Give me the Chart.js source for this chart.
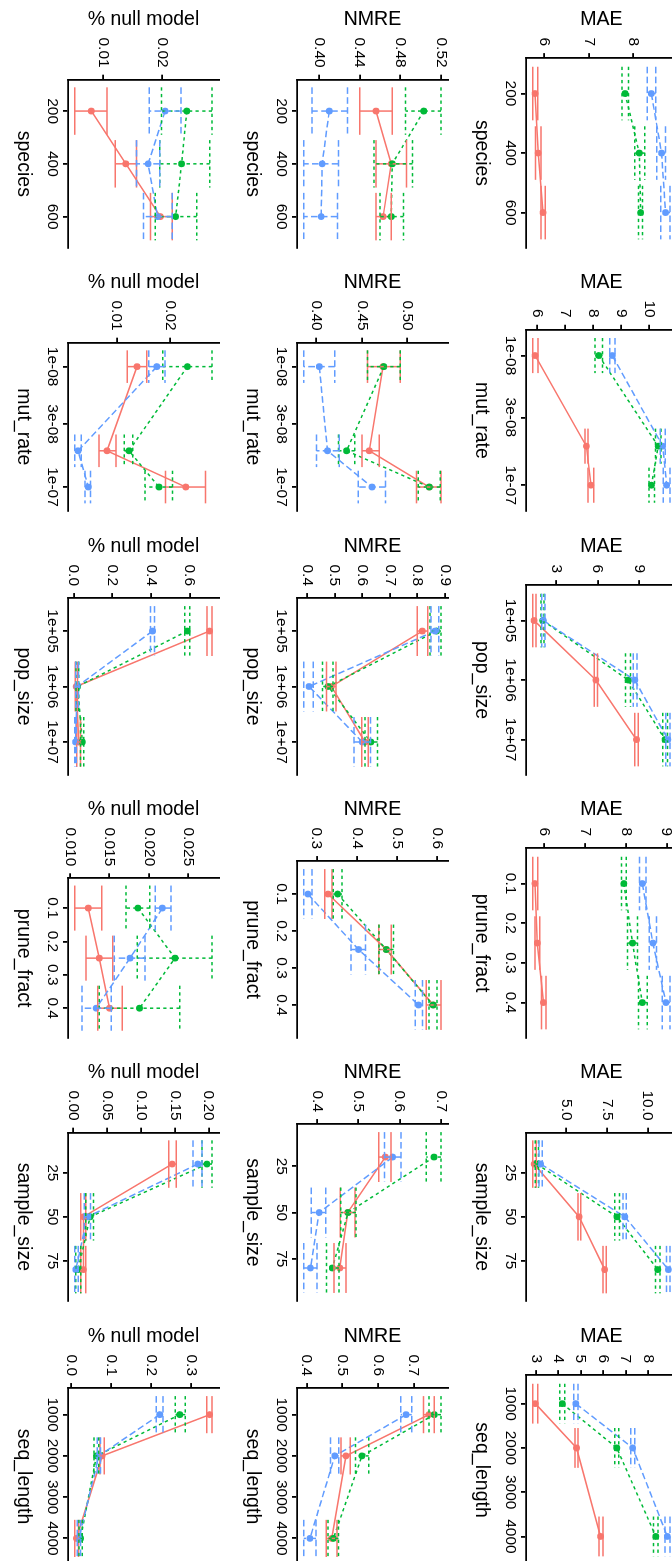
<!DOCTYPE html>
<html>
<head>
<meta charset="utf-8">
<script src="https://cdn.jsdelivr.net/npm/chart.js@4.4.1/dist/chart.umd.min.js"></script>
<style>
  html, body { margin: 0; padding: 0; background: #fff; }
  body { width: 672px; height: 1561px; overflow: hidden; position: relative; }
  /* the figure is laid out landscape and turned a quarter clockwise */
  #fig { position: absolute; left: 0; top: 0; width: 1580px; height: 687px;
         transform-origin: 0 0; transform: translate(687px, 0) rotate(90deg); }
  #fig div { position: absolute; width: 263px; height: 229px; }
</style>
</head>
<body>
<div id="fig"></div>
<script>
// three groups: red solid, green dotted, blue dashed
const colors = ['#F8766D', '#00BA38', '#619CFF'];
const dashes = [[], [3.3, 3.3], [6.6, 3.3]];
const groups = ['group 1', 'group 2', 'group 3'];
const metrics = ['MAE', 'NMRE', '% null model'];

// parameter values on the x axes
const species = [200, 400, 600];
const mutRate = [1e-8, 5e-8, 1e-7];
const popSize = [1e5, 1e6, 1e7];
const pruneFract = [0.1, 0.25, 0.4];
const sampleSize = [20, 50, 80];
const seqLength = [1000, 2000, 4000];

const speciesTicks = ['200', '400', '600'];
const mutRateTicks = ['1e-08', '3e-08', '1e-07'];
const popSizeTicks = ['1e+05', '1e+06', '1e+07'];
const pruneFractTicks = ['0.1', '0.2', '0.3', '0.4'];
const sampleSizeTicks = ['25', '50', '75'];
const seqLengthTicks = ['1000', '2000', '3000', '4000'];

// means and error bar ends, one row per group (red, green, blue)
const maeSpecies   = [[5.79, 5.86, 5.97], [7.81, 8.13, 8.16], [8.40, 8.63, 8.72]];
const maeSpeciesLo = [[5.74, 5.80, 5.92], [7.74, 8.03, 8.11], [8.31, 8.52, 8.61]];
const maeSpeciesHi = [[5.85, 5.92, 6.02], [7.89, 8.25, 8.20], [8.50, 8.72, 8.82]];
const nmreSpecies   = [[0.456, 0.471, 0.463], [0.503, 0.472, 0.471], [0.410, 0.403, 0.402]];
const nmreSpeciesLo = [[0.440, 0.456, 0.456], [0.485, 0.454, 0.460], [0.393, 0.385, 0.385]];
const nmreSpeciesHi = [[0.472, 0.486, 0.471], [0.520, 0.492, 0.483], [0.428, 0.419, 0.418]];
const nullSpecies   = [[0.0079, 0.0138, 0.0197], [0.0242, 0.0233, 0.0223], [0.0205, 0.0176, 0.0192]];
const nullSpeciesLo = [[0.0051, 0.0120, 0.0180], [0.0199, 0.0196, 0.0188], [0.0178, 0.0156, 0.0168]];
const nullSpeciesHi = [[0.0106, 0.0156, 0.0217], [0.0285, 0.0281, 0.0259], [0.0232, 0.0196, 0.0217]];

const maeMut   = [[5.94, 7.76, 7.92], [8.20, 10.31, 10.07], [8.68, 10.47, 10.61]];
const maeMutLo = [[5.86, 7.71, 7.82], [8.07, 10.21, 9.98], [8.59, 10.38, 10.49]];
const maeMutHi = [[6.04, 7.82, 8.02], [8.33, 10.41, 10.18], [8.78, 10.56, 10.73]];
const nmreMut   = [[0.473, 0.458, 0.524], [0.474, 0.433, 0.524], [0.403, 0.412, 0.461]];
const nmreMutLo = [[0.456, 0.450, 0.510], [0.456, 0.424, 0.512], [0.386, 0.400, 0.446]];
const nmreMutHi = [[0.492, 0.469, 0.537], [0.492, 0.442, 0.536], [0.420, 0.425, 0.476]];
const nullMut   = [[0.0138, 0.0082, 0.0229], [0.0232, 0.0123, 0.0179], [0.0175, 0.0028, 0.0047]];
const nullMutLo = [[0.0120, 0.0067, 0.0191], [0.0186, 0.0114, 0.0153], [0.0160, 0.0022, 0.0041]];
const nullMutHi = [[0.0156, 0.0099, 0.0266], [0.0278, 0.0130, 0.0204], [0.0190, 0.0034, 0.0051]];

const maePop   = [[1.44, 5.88, 8.79], [2.06, 8.20, 10.84], [2.10, 8.67, 11.05]];
const maePopLo = [[1.35, 5.76, 8.67], [1.94, 8.00, 10.68], [1.98, 8.55, 10.90]];
const maePopHi = [[1.58, 6.00, 8.91], [2.15, 8.36, 11.01], [2.22, 8.83, 11.20]];
const nmrePop   = [[0.818, 0.488, 0.610], [0.870, 0.476, 0.631], [0.864, 0.407, 0.600]];
const nmrePopLo = [[0.800, 0.470, 0.598], [0.846, 0.456, 0.610], [0.850, 0.388, 0.570]];
const nmrePopHi = [[0.838, 0.505, 0.622], [0.886, 0.494, 0.655], [0.878, 0.422, 0.630]];
const nullPop   = [[0.703, 0.013, 0.026], [0.588, 0.020, 0.045], [0.408, 0.018, 0.010]];
const nullPopLo = [[0.690, 0.008, 0.016], [0.575, 0.012, 0.036], [0.398, 0.011, 0.0064]];
const nullPopHi = [[0.716, 0.020, 0.036], [0.601, 0.027, 0.053], [0.418, 0.025, 0.014]];

const maePrune   = [[5.77, 5.83, 5.98], [7.95, 8.16, 8.40], [8.40, 8.66, 8.98]];
const maePruneLo = [[5.72, 5.77, 5.93], [7.89, 8.04, 8.31], [8.33, 8.57, 8.89]];
const maePruneHi = [[5.84, 5.89, 6.04], [8.01, 8.28, 8.52], [8.49, 8.75, 9.08]];
const nmrePrune   = [[0.328, 0.473, 0.590], [0.352, 0.473, 0.589], [0.278, 0.404, 0.553]];
const nmrePruneLo = [[0.320, 0.454, 0.572], [0.341, 0.455, 0.579], [0.268, 0.385, 0.545]];
const nmrePruneHi = [[0.338, 0.485, 0.609], [0.363, 0.491, 0.599], [0.288, 0.421, 0.563]];
const nullPrune   = [[0.0123, 0.0137, 0.0150], [0.0186, 0.0233, 0.0188], [0.0217, 0.0176, 0.0133]];
const nullPruneLo = [[0.0106, 0.0120, 0.0135], [0.0171, 0.0185, 0.0137], [0.0208, 0.0156, 0.0115]];
const nullPruneHi = [[0.0140, 0.0154, 0.0166], [0.0201, 0.0280, 0.0239], [0.0228, 0.0195, 0.0152]];

const maeSample   = [[3.06, 5.81, 7.37], [3.22, 8.12, 10.61], [3.46, 8.60, 11.26]];
const maeSampleLo = [[2.98, 5.73, 7.27], [3.12, 7.98, 10.47], [3.36, 8.48, 11.15]];
const maeSampleHi = [[3.18, 5.91, 7.47], [3.32, 8.28, 10.75], [3.56, 8.68, 11.36]];
const nmreSample   = [[0.565, 0.474, 0.455], [0.683, 0.475, 0.437], [0.583, 0.405, 0.384]];
const nmreSampleLo = [[0.549, 0.456, 0.441], [0.664, 0.457, 0.423], [0.563, 0.386, 0.368]];
const nmreSampleHi = [[0.579, 0.492, 0.470], [0.700, 0.494, 0.453], [0.603, 0.421, 0.400]];
const nullSample   = [[0.146, 0.0147, 0.0147], [0.1975, 0.0246, 0.0069], [0.184, 0.0206, 0.0034]];
const nullSampleLo = [[0.141, 0.0108, 0.0108], [0.190, 0.0180, 0.0034], [0.177, 0.0160, 0.0020]];
const nullSampleHi = [[0.152, 0.0180, 0.0180], [0.205, 0.0295, 0.0108], [0.190, 0.0250, 0.0069]];

const maeSeq   = [[2.98, 4.81, 5.88], [4.18, 6.60, 8.34], [4.78, 7.31, 8.85]];
const maeSeqLo = [[2.87, 4.74, 5.81], [4.07, 6.51, 8.24], [4.69, 7.22, 8.75]];
const maeSeqHi = [[3.09, 4.88, 5.99], [4.29, 6.69, 8.44], [4.88, 7.40, 8.97]];
const nmreSeq   = [[0.743, 0.510, 0.470], [0.758, 0.555, 0.475], [0.679, 0.479, 0.409]];
const nmreSeqLo = [[0.728, 0.496, 0.455], [0.743, 0.537, 0.460], [0.664, 0.467, 0.392]];
const nmreSeqHi = [[0.758, 0.522, 0.485], [0.777, 0.574, 0.489], [0.695, 0.490, 0.426]];
const nullSeq   = [[0.347, 0.0775, 0.013], [0.272, 0.0633, 0.0233], [0.222, 0.0692, 0.0192]];
const nullSeqLo = [[0.340, 0.0720, 0.009], [0.261, 0.0567, 0.0192], [0.213, 0.0650, 0.0150]];
const nullSeqHi = [[0.353, 0.0830, 0.018], [0.286, 0.0692, 0.0275], [0.230, 0.0733, 0.0233]];

// y axis tick labels
const maeSpeciesTicks = ['6', '7', '8'];
const nmreSpeciesTicks = ['0.40', '0.44', '0.48', '0.52'];
const nullSpeciesTicks = ['0.01', '0.02'];
const maeMutTicks = ['6', '7', '8', '9', '10'];
const nmreMutTicks = ['0.40', '0.45', '0.50'];
const nullMutTicks = ['0.01', '0.02'];
const maePopTicks = ['3', '6', '9'];
const nmrePopTicks = ['0.4', '0.5', '0.6', '0.7', '0.8', '0.9'];
const nullPopTicks = ['0.0', '0.2', '0.4', '0.6'];
const maePruneTicks = ['6', '7', '8', '9'];
const nmrePruneTicks = ['0.3', '0.4', '0.5', '0.6'];
const nullPruneTicks = ['0.010', '0.015', '0.020', '0.025'];
const maeSampleTicks = ['5.0', '7.5', '10.0'];
const nmreSampleTicks = ['0.4', '0.5', '0.6', '0.7'];
const nullSampleTicks = ['0.00', '0.05', '0.10', '0.15', '0.20'];
const maeSeqTicks = ['3', '4', '5', '6', '7', '8'];
const nmreSeqTicks = ['0.4', '0.5', '0.6', '0.7'];
const nullSeqTicks = ['0.0', '0.1', '0.2', '0.3'];

const columns = [
  {name: 'species', x: species, ticks: speciesTicks, log: false, rows: [
    [maeSpecies, maeSpeciesLo, maeSpeciesHi, maeSpeciesTicks],
    [nmreSpecies, nmreSpeciesLo, nmreSpeciesHi, nmreSpeciesTicks],
    [nullSpecies, nullSpeciesLo, nullSpeciesHi, nullSpeciesTicks]]},
  {name: 'mut_rate', x: mutRate, ticks: mutRateTicks, log: true, rows: [
    [maeMut, maeMutLo, maeMutHi, maeMutTicks],
    [nmreMut, nmreMutLo, nmreMutHi, nmreMutTicks],
    [nullMut, nullMutLo, nullMutHi, nullMutTicks]]},
  {name: 'pop_size', x: popSize, ticks: popSizeTicks, log: true, rows: [
    [maePop, maePopLo, maePopHi, maePopTicks],
    [nmrePop, nmrePopLo, nmrePopHi, nmrePopTicks],
    [nullPop, nullPopLo, nullPopHi, nullPopTicks]]},
  {name: 'prune_fract', x: pruneFract, ticks: pruneFractTicks, log: false, rows: [
    [maePrune, maePruneLo, maePruneHi, maePruneTicks],
    [nmrePrune, nmrePruneLo, nmrePruneHi, nmrePruneTicks],
    [nullPrune, nullPruneLo, nullPruneHi, nullPruneTicks]]},
  {name: 'sample_size', x: sampleSize, ticks: sampleSizeTicks, log: false, rows: [
    [maeSample, maeSampleLo, maeSampleHi, maeSampleTicks],
    [nmreSample, nmreSampleLo, nmreSampleHi, nmreSampleTicks],
    [nullSample, nullSampleLo, nullSampleHi, nullSampleTicks]]},
  {name: 'seq_length', x: seqLength, ticks: seqLengthTicks, log: false, rows: [
    [maeSeq, maeSeqLo, maeSeqHi, maeSeqTicks],
    [nmreSeq, nmreSeqLo, nmreSeqHi, nmreSeqTicks],
    [nullSeq, nullSeqLo, nullSeqHi, nullSeqTicks]]}
];

Chart.defaults.font.family = "'Liberation Sans', Arial, sans-serif";
Chart.defaults.color = '#000';

// vertical error bars with caps 0.9 x the data resolution wide
const errorBars = {
  id: 'errorBars',
  afterDatasetsDraw(chart, args, opts) {
    const ctx = chart.ctx;
    const xs = chart.scales.x, ys = chart.scales.y;
    const back = v => opts.log ? Math.pow(10, v) : v;
    chart.data.datasets.forEach(ds => {
      ctx.save();
      ctx.strokeStyle = ds.borderColor;
      ctx.lineWidth = ds.borderWidth;
      ctx.setLineDash(ds.borderDash);
      ds.data.forEach((pt, i) => {
        const t = opts.log ? Math.log10(pt.x) : pt.x;
        const xc = xs.getPixelForValue(pt.x);
        const xl = xs.getPixelForValue(back(t - opts.half));
        const xr = xs.getPixelForValue(back(t + opts.half));
        const yl = ys.getPixelForValue(ds.lo[i]);
        const yh = ys.getPixelForValue(ds.hi[i]);
        ctx.beginPath();
        ctx.moveTo(xl, yh); ctx.lineTo(xr, yh);
        ctx.moveTo(xc, yh); ctx.lineTo(xc, yl);
        ctx.moveTo(xl, yl); ctx.lineTo(xr, yl);
        ctx.stroke();
      });
      ctx.restore();
    });
  }
};

const fig = document.getElementById('fig');

function makePanel(col, c, row) {
  const [mean, lo, hi, yTicks] = c.rows[row];
  const wrap = document.createElement('div');
  wrap.style.left = Math.round(col * 263.3) + 'px';
  wrap.style.top = (row * 229) + 'px';
  const canvas = document.createElement('canvas');
  canvas.width = 263;
  canvas.height = 229;
  wrap.appendChild(canvas);
  fig.appendChild(wrap);

  const tx = c.log ? Math.log10 : v => v;
  const ux = c.log ? v => Math.pow(10, v) : v => v;
  const xt = c.x.map(tx);
  let res = Infinity;
  for (let i = 1; i < xt.length; i++) res = Math.min(res, xt[i] - xt[i - 1]);
  const half = res * 0.45;
  const x0 = xt[0] - half, x1 = xt[xt.length - 1] + half;
  const xe = (x1 - x0) * 0.05;
  const y0 = Math.min(...lo.flat()), y1 = Math.max(...hi.flat());
  const ye = (y1 - y0) * 0.05;

  const axisLine = {drawOnChartArea: false, drawTicks: true, tickLength: 5, color: '#000', lineWidth: 1.8};

  new Chart(canvas, {
    type: 'line',
    data: {
      datasets: mean.map((m, s) => ({
        label: groups[s],
        data: m.map((v, i) => ({x: c.x[i], y: v})),
        lo: lo[s],
        hi: hi[s],
        borderColor: colors[s],
        backgroundColor: colors[s],
        borderWidth: 1.5,
        borderDash: dashes[s],
        pointRadius: 3.4,
        pointBorderWidth: 0,
        pointBackgroundColor: colors[s],
        tension: 0,
        order: 2 - s
      }))
    },
    options: {
      responsive: false,
      animation: false,
      devicePixelRatio: 1,
      events: [],
      layout: {padding: {left: 10, right: 15, top: 10, bottom: 14}},
      plugins: {
        legend: {display: false},
        tooltip: {enabled: false},
        errorBars: {half: half, log: c.log}
      },
      scales: {
        x: {
          type: c.log ? 'logarithmic' : 'linear',
          min: ux(x0 - xe),
          max: ux(x1 + xe),
          bounds: 'data',
          grid: axisLine,
          border: {display: true, color: '#000', width: 1.8},
          afterBuildTicks: s => { s.ticks = c.ticks.map(v => ({value: Number(v)})); },
          ticks: {
            color: '#000', font: {size: 15.5, lineHeight: 1}, padding: 3,
            autoSkip: false, maxRotation: 0, minRotation: 0,
            callback: (v, i) => c.ticks[i]
          },
          title: {display: true, text: c.name, color: '#000',
                  font: {size: 19.5, lineHeight: 1}, padding: {top: 8, bottom: 0}}
        },
        y: {
          type: 'linear',
          min: y0 - ye,
          max: y1 + ye,
          bounds: 'data',
          grid: axisLine,
          border: {display: true, color: '#000', width: 1.8},
          afterBuildTicks: s => { s.ticks = yTicks.map(v => ({value: Number(v)})); },
          ticks: {
            color: '#000', font: {size: 15.5, lineHeight: 0.4}, padding: 7,
            autoSkip: false, callback: (v, i) => yTicks[i]
          },
          title: {display: true, text: metrics[row], color: '#000',
                  font: {size: 19.5, lineHeight: 1}, padding: {top: 0, bottom: 1}}
        }
      }
    },
    plugins: [errorBars]
  });
}

columns.forEach((c, col) => {
  for (let row = 0; row < 3; row++) makePanel(col, c, row);
});
</script>
</body>
</html>
